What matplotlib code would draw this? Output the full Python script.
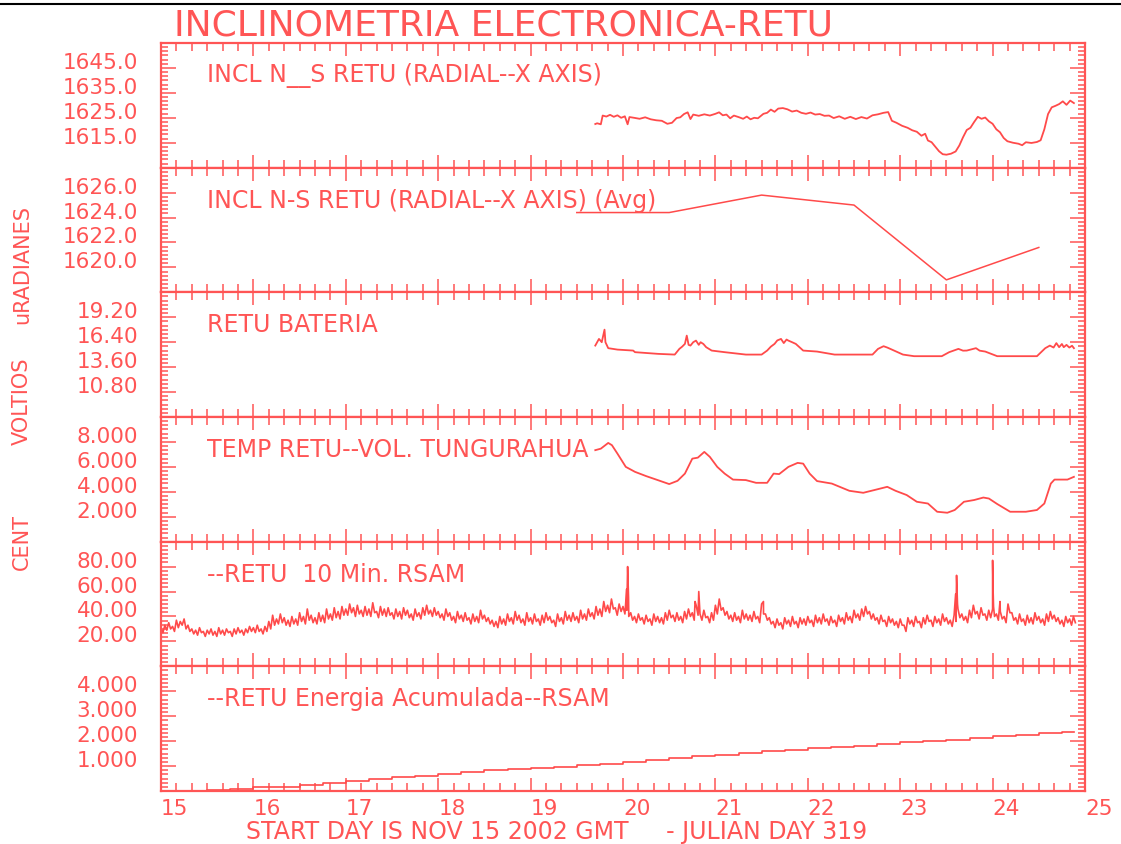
import numpy as np
import matplotlib
matplotlib.use("Agg")
import matplotlib.pyplot as plt
from matplotlib.lines import Line2D

# ---------------- data ----------------
# Panel 1: INCL N__S RETU (radial, x axis)  [uradianes]
incl_days = [19.70, 19.72, 19.76, 19.78, 19.82, 19.86, 19.90, 19.94, 19.98, 20.02,
             20.05, 20.07, 20.12, 20.18, 20.24, 20.30, 20.36, 20.42, 20.48, 20.53,
             20.58, 20.62, 20.66, 20.70, 20.73, 20.76, 20.82, 20.88, 20.94, 21.00,
             21.04, 21.08, 21.12, 21.16, 21.20, 21.25, 21.30, 21.34, 21.38, 21.42,
             21.46, 21.52, 21.56, 21.60, 21.64, 21.68, 21.73, 21.78, 21.83, 21.88,
             21.93, 21.98, 22.03, 22.08, 22.13, 22.18, 22.23, 22.28, 22.34, 22.40,
             22.46, 22.52, 22.58, 22.64, 22.70, 22.76, 22.82, 22.87, 22.91, 22.96,
             23.02, 23.08, 23.13, 23.18, 23.23, 23.27, 23.30, 23.34, 23.38, 23.42,
             23.46, 23.50, 23.55, 23.60, 23.64, 23.68, 23.72, 23.76, 23.80, 23.84,
             23.88, 23.92, 23.96, 24.00, 24.04, 24.08, 24.12, 24.16, 24.22, 24.28,
             24.32, 24.36, 24.42, 24.48, 24.52, 24.56, 24.60, 24.64, 24.68, 24.72,
             24.76, 24.80, 24.84, 24.88]
incl_vals = [1622.5, 1622.8, 1622.4, 1625.9, 1625.5, 1626.2, 1625.4, 1626.0, 1625.0, 1625.6,
             1622.4, 1625.3, 1625.0, 1624.6, 1625.2, 1624.4, 1624.0, 1623.8, 1622.6, 1623.0,
             1624.9, 1625.2, 1626.5, 1627.2, 1624.5, 1626.3, 1625.8, 1626.4, 1625.9, 1626.6,
             1627.2, 1626.0, 1626.3, 1624.8, 1625.9, 1625.3, 1624.6, 1625.5, 1624.4, 1625.0,
             1624.8, 1626.6, 1627.0, 1628.3, 1627.4, 1628.7, 1628.9, 1628.4, 1627.5, 1627.9,
             1627.0, 1626.6, 1627.1, 1626.3, 1626.5, 1625.8, 1625.9, 1624.9, 1625.6, 1624.6,
             1625.4, 1624.5, 1625.3, 1624.7, 1626.0, 1626.4, 1627.0, 1627.3, 1623.8, 1623.0,
             1621.8, 1621.0, 1620.0, 1619.4, 1617.8, 1618.6, 1615.9, 1615.2, 1613.4, 1611.6,
             1610.4, 1610.2, 1610.6, 1611.5, 1613.9, 1617.2, 1620.1, 1621.0, 1623.3, 1625.4,
             1624.6, 1625.1, 1623.6, 1622.6, 1620.4, 1619.2, 1616.9, 1615.6, 1615.0, 1614.6,
             1614.0, 1615.2, 1614.9, 1615.3, 1616.0, 1620.4, 1626.5, 1629.2, 1629.8, 1630.5,
             1631.6, 1630.2, 1631.9, 1630.9]

# Panel 2: daily average of the inclinometer
avg_days = [19.5, 20.5, 21.5, 22.5, 23.5, 24.5]
avg_vals = [1624.4, 1624.4, 1625.8, 1625.0, 1619.0, 1621.6]

# Panel 3: battery [volts]
bat_days = [19.70, 19.74, 19.77, 19.80, 19.81, 19.84, 19.94, 20.11, 20.13, 20.38,
            20.56, 20.61, 20.64, 20.67, 20.69, 20.71, 20.73, 20.76, 20.79, 20.82,
            20.84, 20.87, 20.90, 20.96, 21.10, 21.33, 21.50, 21.56, 21.60, 21.64,
            21.67, 21.71, 21.74, 21.77, 21.79, 21.83, 21.87, 21.95, 22.10, 22.29,
            22.70, 22.76, 22.82, 22.86, 22.91, 23.03, 23.15, 23.45, 23.53, 23.63,
            23.68, 23.72, 23.82, 23.86, 23.92, 24.05, 24.48, 24.57, 24.62, 24.66,
            24.69, 24.72, 24.75, 24.77, 24.80, 24.83, 24.86, 24.88]
bat_vals = [16.02, 16.77, 16.40, 17.81, 16.40, 15.73, 15.57, 15.46, 15.28, 15.09,
            15.01, 15.65, 15.90, 16.21, 17.14, 16.10, 16.02, 16.40, 16.58, 16.10,
            16.40, 16.20, 15.84, 15.46, 15.28, 15.01, 15.01, 15.46, 15.90, 16.21,
            16.60, 16.77, 16.30, 16.70, 16.58, 16.40, 16.21, 15.46, 15.35, 15.01,
            15.01, 15.65, 15.95, 15.80, 15.57, 15.01, 14.83, 14.83, 15.28, 15.65,
            15.45, 15.46, 15.73, 15.45, 15.35, 14.83, 14.83, 15.73, 16.02, 15.80,
            16.30, 15.84, 16.20, 15.84, 16.10, 15.80, 16.00, 15.73]

# Panel 4: temperature [C]
temp_days = [19.70, 19.76, 19.84, 19.88, 19.94, 20.03, 20.13, 20.25, 20.36, 20.50,
             20.59, 20.67, 20.75, 20.81, 20.88, 20.94, 21.02, 21.10, 21.19, 21.33,
             21.44, 21.56, 21.63, 21.69, 21.79, 21.89, 21.95, 22.02, 22.10, 22.26,
             22.45, 22.60, 22.72, 22.86, 22.95, 23.07, 23.18, 23.30, 23.40, 23.51,
             23.59, 23.69, 23.80, 23.90, 23.96, 24.05, 24.19, 24.36, 24.48, 24.56,
             24.63, 24.67, 24.81, 24.88]
temp_vals = [7.34, 7.46, 7.92, 7.74, 7.06, 6.00, 5.60, 5.26, 4.98, 4.62,
             4.88, 5.46, 6.66, 6.74, 7.20, 6.80, 6.00, 5.46, 4.98, 4.94,
             4.72, 4.72, 5.46, 5.42, 6.00, 6.32, 6.26, 5.46, 4.86, 4.66,
             4.08, 3.92, 4.14, 4.40, 4.08, 3.74, 3.20, 3.06, 2.40, 2.32,
             2.54, 3.20, 3.34, 3.54, 3.46, 3.02, 2.40, 2.40, 2.54, 3.06,
             4.66, 4.98, 4.98, 5.20]

# Panel 5: 10 min RSAM, half-hourly readings (high/low of the band) from day 15.0
rsam_halfhourly = [
    # day 15
    31, 27, 33, 29, 35, 30, 32, 28, 37, 31, 36, 33, 38, 30, 33, 28, 30, 26, 29, 25, 31, 27, 28, 24,
    29, 26, 30, 25, 28, 24, 31, 26, 29, 25, 30, 27, 28, 24, 30, 26, 31, 27, 29, 25, 30, 27, 32, 28,
    # day 16
    31, 27, 33, 28, 30, 26, 32, 28, 36, 30, 41, 33, 38, 34, 42, 35, 39, 33, 37, 32, 40, 34, 38, 33,
    43, 36, 40, 34, 46, 37, 41, 35, 39, 34, 43, 36, 41, 35, 46, 38, 42, 37, 47, 39, 44, 38, 48, 41,
    # day 17
    46, 41, 50, 43, 47, 40, 49, 42, 45, 40, 48, 41, 46, 40, 51, 43, 44, 39, 48, 41, 46, 40, 47, 41,
    43, 38, 46, 40, 44, 38, 47, 41, 45, 39, 42, 37, 46, 40, 43, 38, 47, 41, 49, 42, 45, 40, 47, 41,
    # day 18
    44, 39, 42, 37, 46, 40, 43, 37, 40, 35, 44, 38, 41, 36, 43, 37, 39, 34, 42, 36, 40, 35, 45, 38,
    41, 36, 39, 34, 37, 32, 36, 31, 40, 34, 38, 33, 42, 36, 39, 34, 44, 37, 41, 35, 38, 33, 43, 36,
    # day 19
    39, 34, 42, 36, 38, 33, 41, 35, 43, 37, 40, 35, 37, 32, 42, 36, 39, 34, 44, 37, 41, 36, 43, 37,
    40, 35, 45, 38, 42, 37, 46, 40, 43, 38, 48, 41, 46, 40, 52, 44, 49, 43, 54, 46, 47, 41, 50, 44,
    # day 20
    48, 42, 45, 40, 43, 37, 40, 35, 42, 37, 39, 34, 41, 36, 38, 33, 42, 36, 40, 35, 39, 34, 43, 37,
    45, 39, 41, 36, 43, 37, 40, 35, 44, 38, 46, 40, 43, 37, 49, 41, 42, 37, 45, 39, 40, 35, 43, 37,
    # day 21
    49, 42, 54, 45, 47, 41, 44, 38, 41, 36, 43, 37, 40, 35, 45, 38, 42, 37, 41, 36, 44, 38, 40, 35,
    50, 42, 42, 37, 39, 34, 36, 31, 38, 33, 35, 30, 39, 34, 37, 32, 40, 34, 36, 31, 39, 34, 38, 33,
    # day 22
    40, 35, 37, 32, 41, 35, 39, 34, 42, 36, 38, 33, 40, 35, 37, 32, 41, 36, 39, 34, 43, 37, 40, 35,
    45, 39, 42, 37, 46, 40, 48, 42, 44, 38, 42, 37, 39, 34, 41, 36, 37, 32, 40, 35, 38, 33, 36, 31,
    # day 23
    38, 33, 33, 28, 39, 34, 37, 32, 40, 35, 36, 31, 39, 34, 41, 36, 37, 32, 40, 35, 38, 33, 42, 36,
    39, 34, 37, 32, 41, 36, 46, 39, 42, 37, 40, 35, 45, 39, 49, 42, 44, 38, 47, 41, 42, 37, 45, 39,
    # day 24
    46, 40, 42, 37, 44, 38, 40, 35, 50, 43, 43, 37, 39, 34, 42, 36, 38, 33, 41, 35, 39, 34, 43, 37,
    40, 35, 38, 33, 42, 36, 44, 38, 41, 36, 39, 34, 37, 32, 40, 35, 38, 33, 40, 35,
]
rsam_spike_days = [20.040, 20.050, 20.060, 20.780, 20.820, 21.520, 23.600, 23.610, 23.620,
                   24.000, 24.005, 24.010, 24.080]
rsam_spike_vals = [62, 80, 55, 52, 60, 52, 58, 73, 50, 85, 62, 48, 52]

# Panel 6: accumulated energy (6-hourly steps)
energy_days = [15.00, 15.25, 15.50, 15.75, 16.00, 16.25, 16.50, 16.75, 17.00, 17.25,
               17.50, 17.75, 18.00, 18.25, 18.50, 18.75, 19.00, 19.25, 19.50, 19.75,
               20.00, 20.25, 20.50, 20.75, 21.00, 21.25, 21.50, 21.75, 22.00, 22.25,
               22.50, 22.75, 23.00, 23.25, 23.50, 23.75, 24.00, 24.25, 24.50, 24.75, 24.88]
energy_vals = [0.00, 0.01, 0.05, 0.08, 0.15, 0.18, 0.24, 0.32, 0.40, 0.48,
               0.55, 0.61, 0.68, 0.76, 0.83, 0.90, 0.93, 0.97, 1.03, 1.09,
               1.16, 1.24, 1.32, 1.39, 1.46, 1.53, 1.59, 1.66, 1.72, 1.78,
               1.82, 1.88, 1.95, 2.00, 2.05, 2.11, 2.19, 2.26, 2.32, 2.36, 2.36]

panel_titles = ["INCL N__S RETU (RADIAL--X AXIS)",
                "INCL N-S RETU (RADIAL--X AXIS) (Avg)",
                "RETU BATERIA",
                "TEMP RETU--VOL. TUNGURAHUA",
                "--RETU  10 Min. RSAM",
                "--RETU Energia Acumulada--RSAM"]
panel_ylims = [(1605.0, 1655.0), (1618.0, 1628.0), (8.0, 22.0),
               (0.0, 10.0), (0.0, 100.0), (0.0, 5.0)]
panel_fmts = ["%.1f", "%.1f", "%.2f", "%.3f", "%.2f", "%.3f"]
day_ticks = list(range(15, 26))

# ---------------- figure ----------------
RED = "#ff5555"
LINE = "#ff4a4a"
W, H = 1121, 845
fig = plt.figure(figsize=(W / 100, H / 100), dpi=100)
fig.patch.set_facecolor("white")

LEFT, RIGHT, TOP, BOTTOM = 161, 1085, 44, 792
ph = (BOTTOM - TOP) / 6.0

axes = []
for i in range(6):
    ytop = TOP + i * ph
    ax = fig.add_axes([LEFT / W, 1 - (ytop + ph) / H, (RIGHT - LEFT) / W, ph / H])
    axes.append(ax)
    lo, hi = panel_ylims[i]
    ax.set_xlim(15, 25)
    ax.set_ylim(lo, hi)
    for sp in ax.spines.values():
        sp.set_color(RED)
        sp.set_linewidth(1.6)
    majors = np.linspace(lo, hi, 6)
    labels = [""] + [panel_fmts[i] % v for v in majors[1:-1]] + [""]
    ax.set_yticks(majors, labels=labels)
    ax.set_yticks(np.linspace(lo, hi, 31), minor=True)
    ax.set_xticks(day_ticks)
    ax.set_xticks(np.arange(15, 25.0001, 1.0 / 6.0), minor=True)
    ax.tick_params(axis="both", which="both", direction="in", top=True, right=True,
                   color=RED, labelcolor=RED, width=1.1)
    ax.tick_params(axis="x", which="major", length=9.5, pad=5, labelsize=15.5)
    ax.tick_params(axis="x", which="minor", length=5.5)
    ax.tick_params(axis="y", which="major", length=11, pad=16.5, labelsize=15.5)
    ax.tick_params(axis="y", which="minor", length=5)
    for lbl in ax.get_yticklabels():
        lbl.set_verticalalignment("baseline")
    if i < 5:
        ax.tick_params(axis="x", labelbottom=False)
    else:
        ax.set_xticklabels([str(d) for d in day_ticks])
        for lbl in ax.get_xticklabels():
            lbl.set_horizontalalignment("left")
    ax.annotate(panel_titles[i], xy=(0, 1), xycoords="axes fraction",
                xytext=(33, -23), textcoords="offset points",
                ha="left", va="center", fontsize=17, color=RED)

lw = 1.3
axes[0].plot(incl_days, incl_vals, color=LINE, lw=lw)
axes[1].plot(avg_days, avg_vals, color=LINE, lw=1.1)
axes[2].plot(bat_days, bat_vals, color=LINE, lw=lw)
axes[3].plot(temp_days, temp_vals, color=LINE, lw=lw)

rs_days = np.concatenate([15.0 + np.arange(len(rsam_halfhourly)) / 48.0, rsam_spike_days])
rs_vals = np.concatenate([rsam_halfhourly, rsam_spike_vals])
order = np.argsort(rs_days, kind="stable")
axes[4].plot(rs_days[order], rs_vals[order], color=LINE, lw=1.2)

axes[5].step(energy_days, energy_vals, where="post", color=LINE, lw=1.2)

# texts
fig.text(503 / W, 1 - 25 / H, "INCLINOMETRIA ELECTRONICA-RETU", ha="center", va="center",
         fontsize=26, color=RED)
fig.text(22 / W, 1 - 265 / H, "uRADIANES", rotation=90, ha="center", va="center",
         fontsize=15, color=RED)
fig.text(22 / W, 1 - 401 / H, "VOLTIOS", rotation=90, ha="center", va="center",
         fontsize=15, color=RED)
fig.text(22 / W, 1 - 542 / H, "CENT", rotation=90, ha="center", va="center",
         fontsize=15, color=RED)
fig.text(557 / W, 1 - 832 / H, "START DAY IS NOV 15 2002 GMT     - JULIAN DAY 319",
         ha="center", va="center", fontsize=17, color=RED)

fig.add_artist(Line2D([0, 1], [1 - 5 / H, 1 - 5 / H], transform=fig.transFigure,
                      color="black", lw=1.5))

fig.savefig("out.png", dpi=100, facecolor="white")
